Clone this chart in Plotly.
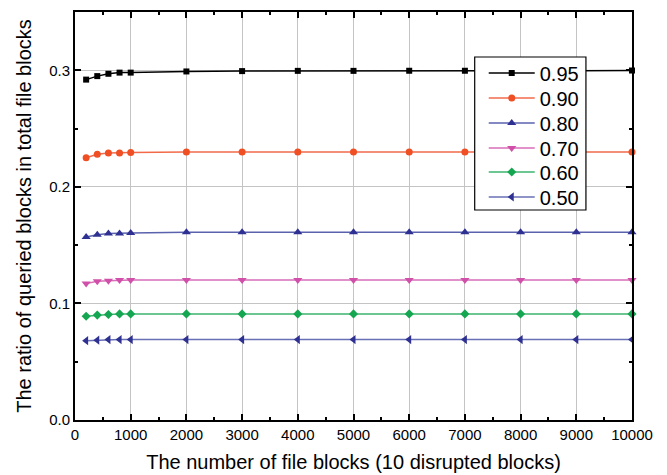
import plotly.graph_objects as go

x_blocks = [200, 400, 600, 800, 1000, 2000, 3000, 4000, 5000, 6000, 7000, 8000, 9000, 10000]
y_095 = [0.292, 0.295, 0.297, 0.298, 0.298, 0.299, 0.2993, 0.2995, 0.2995, 0.2996, 0.2996, 0.2997, 0.2997, 0.2998]
y_090 = [0.225, 0.228, 0.229, 0.229, 0.2295, 0.2298, 0.2299, 0.23, 0.23, 0.23, 0.23, 0.23, 0.23, 0.23]
y_080 = [0.157, 0.159, 0.160, 0.160, 0.1605, 0.161, 0.161, 0.161, 0.161, 0.161, 0.161, 0.161, 0.161, 0.161]
y_070 = [0.117, 0.119, 0.1195, 0.120, 0.120, 0.120, 0.120, 0.120, 0.120, 0.120, 0.120, 0.120, 0.120, 0.120]
y_060 = [0.089, 0.090, 0.0905, 0.091, 0.091, 0.091, 0.091, 0.091, 0.091, 0.091, 0.091, 0.091, 0.091, 0.091]
y_050 = [0.068, 0.0685, 0.069, 0.069, 0.069, 0.069, 0.069, 0.069, 0.069, 0.069, 0.069, 0.069, 0.069, 0.069]

x_ticks = [0, 1000, 2000, 3000, 4000, 5000, 6000, 7000, 8000, 9000, 10000]
x_tick_labels = ["0", "1000", "2000", "3000", "4000", "5000", "6000", "7000", "8000", "9000", "10000"]
y_ticks = [0.0, 0.1, 0.2, 0.3]
y_tick_labels = ["0.0", "0.1", "0.2", "0.3"]

names = ["0.95", "0.90", "0.80", "0.70", "0.60", "0.50"]
series = [y_095, y_090, y_080, y_070, y_060, y_050]
colors = ["#000000", "#F04E23", "#2E3192", "#D04FA8", "#14A650", "#2E3192"]
line_colors = ["#000000", "#F26A4A", "#5A62AE", "#D86DB8", "#3CB46E", "#6870B6"]
symbols = ["square", "circle", "triangle-up", "triangle-down", "diamond", "triangle-left"]
sizes = [6, 7, 8, 8, 7, 8]

# one small legend per series so the entry spacing can match the reference
legend_ids = ["legend2", "legend3", "legend4", "legend5", "legend6", "legend7"]
legend_y = [0.8505, 0.7892, 0.7279, 0.6667, 0.6078, 0.5466]

fig = go.Figure()
for n, ys, c, lc, s, sz, lid in zip(names, series, colors, line_colors, symbols, sizes, legend_ids):
    fig.add_trace(go.Scatter(
        x=x_blocks, y=ys, name=n, mode="lines+markers",
        line=dict(color=lc, width=1.5),
        marker=dict(symbol=s, color=c, size=sz),
        cliponaxis=False, legend=lid,
    ))

axis_common = dict(
    showline=True, linecolor="black", linewidth=2, mirror="allticks",
    ticks="inside", ticklen=6, tickwidth=1.5, tickcolor="black",
    showgrid=True, gridcolor="#C4C4C4", gridwidth=1.3, zeroline=False,
    tickfont=dict(size=15, color="black"),
)

fig.update_xaxes(
    range=[0, 10000], tickmode="array", tickvals=x_ticks, ticktext=x_tick_labels,
    minor=dict(dtick=500, ticks="inside", ticklen=3, tickcolor="black", showgrid=False),
    title=dict(text="The number of file blocks (10 disrupted blocks)", font=dict(size=20, color="black"), standoff=13),
    **axis_common,
)
fig.update_yaxes(
    range=[0, 0.35], tickmode="array", tickvals=y_ticks, ticktext=y_tick_labels,
    minor=dict(dtick=0.05, ticks="inside", ticklen=3, tickcolor="black", showgrid=False),
    title=dict(text="The ratio of queried blocks in total file blocks", font=dict(size=20, color="black"), standoff=12),
    **axis_common,
)

layout_legends = {}
for lid, ly in zip(legend_ids, legend_y):
    layout_legends[lid] = dict(
        x=0.7338, y=ly, xanchor="left", yanchor="middle",
        borderwidth=0, bgcolor="rgba(0,0,0,0)", itemwidth=46,
        font=dict(size=20, color="black"),
    )

fig.update_layout(
    width=667, height=475,
    margin=dict(l=67, r=43, t=4, b=63, autoexpand=False),
    plot_bgcolor="white", paper_bgcolor="white",
    font=dict(family="Arial, Liberation Sans, sans-serif", color="black"),
    shapes=[dict(type="rect", xref="paper", yref="paper",
                 x0=0.7176, x1=0.9173, y0=0.5147, y1=0.8897,
                 line=dict(color="black", width=1.2), fillcolor="white", layer="above")],
    **layout_legends,
)

fig.write_html("out.html")
